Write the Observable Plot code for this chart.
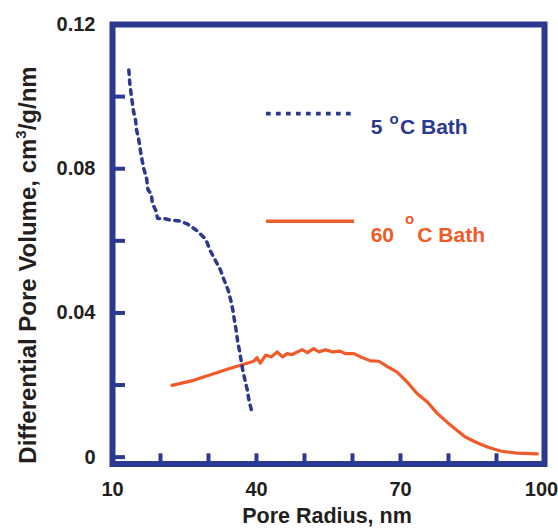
<!DOCTYPE html>
<html>
<head>
<meta charset="utf-8">
<script src="https://cdn.jsdelivr.net/npm/d3@7"></script>
<script src="https://cdn.jsdelivr.net/npm/@observablehq/plot@0.6"></script>
<style>
  html, body { margin: 0; padding: 0; background: #fff; }
  #chart svg { display: block; }
</style>
</head>
<body>
<div id="chart"></div>
<script>
// 5 °C bath (dotted blue)
const radius5 = [13.4, 13.6, 13.9, 14.4, 14.8, 15.0, 15.35, 15.7, 16.0, 16.5, 17.1, 17.4, 18.1, 18.3, 19.0, 19.4, 20.7, 22.2, 24.0, 25.7, 27.6, 29.4, 30.4, 31.5, 32.5, 33.2, 34.1, 34.6, 35.1, 35.4, 35.7, 36.1, 36.5, 37.2, 37.7, 38.1, 38.4, 39.1];
const volume5 = [0.1074, 0.1037, 0.1005, 0.0958, 0.0935, 0.0908, 0.0889, 0.0861, 0.0835, 0.0801, 0.0773, 0.0741, 0.073, 0.0704, 0.0685, 0.0662, 0.0662, 0.0657, 0.0655, 0.0646, 0.0628, 0.0605, 0.0572, 0.0544, 0.0519, 0.0493, 0.0463, 0.0437, 0.0406, 0.038, 0.0357, 0.0319, 0.0292, 0.0236, 0.0208, 0.0185, 0.016, 0.0122];

// 60 °C bath (solid orange)
const radius60 = [22.4, 26.9, 30.1, 33.9, 36.7, 39.4, 40.1, 40.8, 41.9, 43.1, 44.3, 45.4, 46.4, 47.4, 48.5, 49.5, 50.6, 51.9, 53.0, 54.4, 55.8, 57.4, 58.5, 60.3, 61.7, 63.75, 65.5, 67.2, 69.3, 71.4, 73.5, 75.6, 77.6, 79.7, 81.8, 83.5, 85.6, 88.1, 90.8, 94.3, 98.5];
const volume60 = [0.0199, 0.0213, 0.0227, 0.0244, 0.0255, 0.0266, 0.0276, 0.0261, 0.0283, 0.0278, 0.0292, 0.0278, 0.0287, 0.0284, 0.0292, 0.0298, 0.029, 0.0301, 0.0292, 0.0298, 0.0292, 0.0294, 0.0287, 0.0287, 0.0278, 0.0267, 0.0266, 0.0252, 0.0236, 0.0208, 0.0176, 0.0153, 0.0122, 0.0097, 0.0074, 0.0056, 0.0042, 0.0028, 0.0017, 0.0011, 0.0009];

const xTickLabels = [10, 40, 70, 100];
const xTickMarks = [20, 30, 40, 50, 60, 70, 80, 90];
const yTickLabels = [0, 0.04, 0.08, 0.12];
const yTickMarks = [0, 0.02, 0.04, 0.06, 0.08, 0.1];

const seriesNames = ["5", "60"];

const BLUE = "#2b3990";
const ORANGE = "#f15a29";
const TEXT = "#231f20";
const FONT = "Liberation Sans";

const d5 = radius5.map((r, i) => ({r, v: volume5[i]}));
const d60 = radius60.map((r, i) => ({r, v: volume60[i]}));

const yMin = -0.0019;
const xLast = xTickLabels[xTickLabels.length - 1];

const svg = Plot.plot({
  width: 558,
  height: 528,
  marginLeft: 112,
  marginRight: 14,
  marginTop: 24,
  marginBottom: 64.5,
  x: {domain: [10, 100]},
  y: {domain: [yMin, 0.12]},
  style: {fontFamily: FONT, fontWeight: "bold", fontSize: "20px", color: TEXT, background: "white"},
  marks: [
    Plot.line(d60, {x: "r", y: "v", stroke: ORANGE, strokeWidth: 3.2}),
    Plot.line(d5, {x: "r", y: "v", stroke: BLUE, strokeWidth: 3.5, strokeDasharray: "4.5,5.5"}),
    Plot.ruleY(yTickMarks, {y: d => d, x1: 10, x2: 12.7, stroke: BLUE, strokeWidth: 4}),
    Plot.ruleX(xTickMarks, {x: d => d, y1: yMin, y2: 0.00093, stroke: BLUE, strokeWidth: 4}),
    Plot.frame({stroke: BLUE, strokeWidth: 6}),
    Plot.axisX(xTickLabels.filter(d => d !== xLast), {tickSize: 0, tickPadding: 18, label: null, fill: TEXT, fontSize: 20}),
    Plot.axisX([xLast], {tickSize: 0, tickPadding: 18, label: null, fill: TEXT, fontSize: 20, dx: -3}),
    Plot.axisY(yTickLabels, {tickSize: 0, tickPadding: 17, label: null, fill: TEXT, fontSize: 20, tickFormat: d => d === 0 ? "0" : d.toFixed(2)})
  ]
});

document.getElementById("chart").appendChild(svg);

const s = d3.select(svg);

// Axis titles
s.append("text")
  .attr("x", 327).attr("y", 523)
  .attr("text-anchor", "middle")
  .attr("font-family", FONT).attr("font-weight", "bold").attr("font-size", 21.5)
  .attr("fill", TEXT)
  .text("Pore Radius, nm");

const yt = s.append("text")
  .attr("transform", "translate(36,265) rotate(-90)")
  .attr("text-anchor", "middle")
  .attr("font-family", FONT).attr("font-weight", "bold").attr("font-size", 24)
  .attr("fill", TEXT);
yt.append("tspan").text("Differential Pore Volume, cm");
yt.append("tspan").attr("font-size", 15).attr("dy", -10).text("3");
yt.append("tspan").attr("dy", 10).text("/g/nm");

// Legend
s.append("line").attr("x1", 266).attr("x2", 352).attr("y1", 113.7).attr("y2", 113.7)
  .attr("stroke", BLUE).attr("stroke-width", 3.7).attr("stroke-dasharray", "4.7,5.3");
s.append("line").attr("x1", 266).attr("x2", 354).attr("y1", 221.3).attr("y2", 221.3)
  .attr("stroke", ORANGE).attr("stroke-width", 3.5);

function legendText(color, num, numX, oX, oY, cX, baseY) {
  const g = s.append("g").attr("fill", color).attr("font-family", FONT).attr("font-weight", "bold").attr("text-anchor", "start");
  g.append("text").attr("x", numX).attr("y", baseY).attr("font-size", 21).text(num);
  g.append("text").attr("x", oX).attr("y", oY).attr("font-size", 15).text("o");
  g.append("text").attr("x", cX).attr("y", baseY).attr("font-size", 21).text("C Bath");
}
legendText(BLUE, seriesNames[0], 370.7, 389.5, 124, 400, 134);
legendText(ORANGE, seriesNames[1], 370.7, 405, 224, 417.3, 241.7);
</script>
</body>
</html>
